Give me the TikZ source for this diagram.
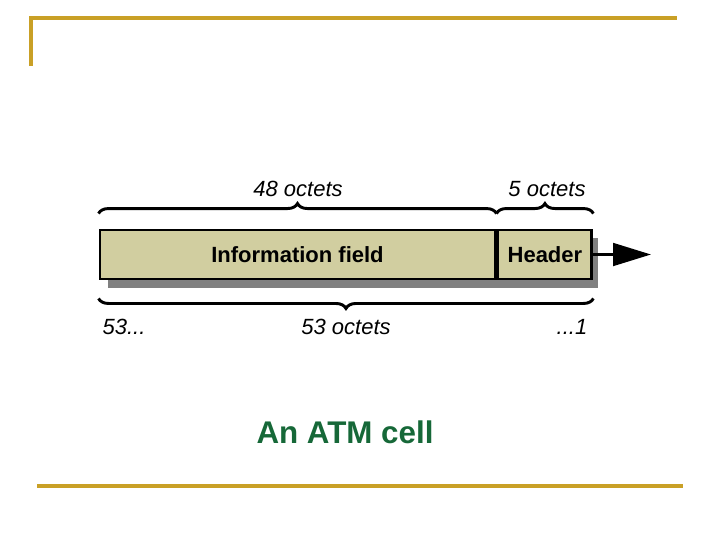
\documentclass[tikz,border=0pt]{standalone}
\usepackage{fontspec}
\setmainfont{Liberation Sans}
\usetikzlibrary{decorations.pathreplacing,arrows.meta,positioning}
\definecolor{rulegold}{RGB}{201,160,38}
\definecolor{cellfill}{RGB}{209,206,160}
\definecolor{cellshadow}{RGB}{128,128,128}
\definecolor{titlegreen}{RGB}{22,104,56}

\begin{document}
\begin{tikzpicture}[x=0.75pt,y=-0.75pt]
      \tikzstyle{field}=[draw,line width=2.2pt,fill=cellfill,minimum height=36.75pt,inner sep=0pt,font=\bfseries\fontsize{16.5}{20}\selectfont]
      \tikzstyle{octets}=[font=\itshape\fontsize{16.5}{20}\selectfont]
      \tikzstyle{brace}=[line width=2.2pt,decorate,decoration={brace,amplitude=7.5pt}]
      \useasboundingbox (0,0) rectangle (720,540);
      % slide rules
      \draw[rulegold,line width=2.6pt] (31,66) -- (31,18) -- (677,18);
      \draw[rulegold,line width=2.6pt] (37,486) -- (683,486);
      % cell
      \fill[cellshadow] (108,238) rectangle (598,288);
      \node[field,minimum width=296.25pt] (info) at (297.5,254.5) {Information field};
      \node[field,minimum width=70.5pt,right=0pt of info] (header) {Header};
      \coordinate (out) at (651,254.5);
      \draw[line width=2.2pt,-{Triangle[length=28.5pt,width=17pt]}] (header.east) -- (out);
      % braces
      \draw[brace] ([yshift=11.25pt]info.north west) -- ([yshift=11.25pt]info.north east);
      \draw[brace] ([yshift=11.25pt]header.north west) -- ([yshift=11.25pt]header.north east);
      \draw[brace] ([yshift=-13.5pt]header.south east) -- ([yshift=-13.5pt]info.south west);
      \node[octets] (top48) at (298,189) {48 octets};
      \node[octets] (top5) at (547,189) {5 octets};
      \node[octets] (first) at (124,327) {53...};
      \node[octets] (all53) at (346,327) {53 octets};
      \node[octets] (last) at (572,327) {...1};
      \node[font=\bfseries\fontsize{23.5}{28}\selectfont,text=titlegreen] (title) at (345,432) {An ATM cell};
\end{tikzpicture}
\end{document}
